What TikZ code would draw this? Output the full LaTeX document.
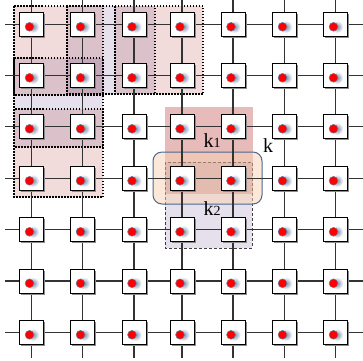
\documentclass[tikz,border=0pt]{standalone}
\usepackage{fontspec}
\setmainfont{Liberation Serif}
\usetikzlibrary{shadows}

\definecolor{winpink}{HTML}{F2DCDB}
\definecolor{winlav}{HTML}{E6E0EC}
\definecolor{kone}{HTML}{E6BBBA}
\definecolor{kbox}{HTML}{F9D2B2}
\definecolor{kedge}{HTML}{4A6890}
\definecolor{wirecol}{HTML}{333333}

\pgfdeclarelayer{wires}
\pgfsetlayers{wires,main}

\tikzset{
  cell/.style={rectangle, draw=black, fill=white, line width=0.9pt,
    minimum size=24pt, inner sep=0pt,
    drop shadow={shadow xshift=1.6pt, shadow yshift=-1.6pt, fill=black!45, opacity=1}},
  wire/.style={draw=wirecol, line width=1.3pt},
  window/.style={line width=1.7pt, dash pattern=on 1.5pt off 1.5pt},
  klabel/.style={inner sep=0pt, font=\fontsize{20}{20}\selectfont},
}
\newcommand{\dg}[1]{{\fontsize{14}{14}\selectfont #1}}

\begin{document}
\begin{tikzpicture}[x=1pt, y=-1pt]
    \useasboundingbox (0,0) rectangle (363,360);

    % --- 网格节点 ---
    \foreach \x [count=\c] in {31.5,82.5,134,182,233,284.5,335.5} {
      \foreach \y [count=\r] in {24.5,75.5,126.5,178.5,229.5,281,332.5} {
        \node[cell] (n-\r-\c) at (\x,\y) {};
        % 红点 (带阴影)
        \shade[inner color=kedge!75, outer color=white] ([shift={(1.5,2.3)}]n-\r-\c.center) circle[radius=6.2pt];
        \fill[red, draw=kedge!85, line width=0.5pt] ([shift={(-2,2.3)}]n-\r-\c.center) circle[radius=4.4pt];
      }
    }

    % --- 边缘端点 ---
    \foreach \y [count=\r] in {24.5,75.5,126.5,178.5,229.5,281,332.5} {
      \coordinate (lt-\r) at (5,\y);
      \coordinate (rt-\r) at (363,\y);
    }
    \foreach \x [count=\c] in {31.5,82.5,134,182,233,284.5,335.5} {
      \coordinate (tp-\c) at (\x,0);
      \coordinate (bt-\c) at (\x,358);
    }

    \begin{pgfonlayer}{wires}
      % --- 窗口 (左上) ---
      \begin{scope}[blend mode=multiply]
        \filldraw[window, fill=winpink] (14,6) rectangle (103,95);
        \filldraw[window, fill=winlav] (67,6) rectangle (155,94);
        \filldraw[window, fill=winpink] (115,6) rectangle (203,94);
        \filldraw[window, fill=winlav] (14,58) rectangle (103,147);
        \filldraw[window, fill=winpink] (14,109) rectangle (103,197);

        % --- k1, k2 ---
        \fill[kone] (165,107) rectangle (253,194);
        \filldraw[fill=winlav, draw=black!75, line width=1pt, dash pattern=on 3pt off 2pt] (165,162) rectangle (252,248);
      \end{scope}
      % --- k (半透明) ---
      \fill[kbox, fill opacity=0.5, rounded corners=9pt] (153,152) rectangle (262,204);
      \draw[kedge, line width=1pt, rounded corners=9pt] (153,152) rectangle (262,204);

      % --- 连线 ---
      \foreach \r in {1,...,7} {
        \draw[wire] (lt-\r) -- (n-\r-1);
        \draw[wire] (n-\r-7) -- (rt-\r);
        \foreach \c [evaluate=\c as \nc using int(\c+1)] in {1,...,6}
          \draw[wire] (n-\r-\c) -- (n-\r-\nc);
      }
      \foreach \c in {1,...,7} {
        \draw[wire] (tp-\c) -- (n-1-\c);
        \draw[wire] (n-7-\c) -- (bt-\c);
        \foreach \r [evaluate=\r as \nr using int(\r+1)] in {1,...,6}
          \draw[wire] (n-\r-\c) -- (n-\nr-\c);
      }
    \end{pgfonlayer}

    % --- 标签 ---
    \node[klabel] (lk1) at (212,141) {k\dg{1}};
    \node[klabel] (lk) at (268,146) {k};
    \node[klabel] (lk2) at (212,209) {k\dg{2}};

\end{tikzpicture}
\end{document}
